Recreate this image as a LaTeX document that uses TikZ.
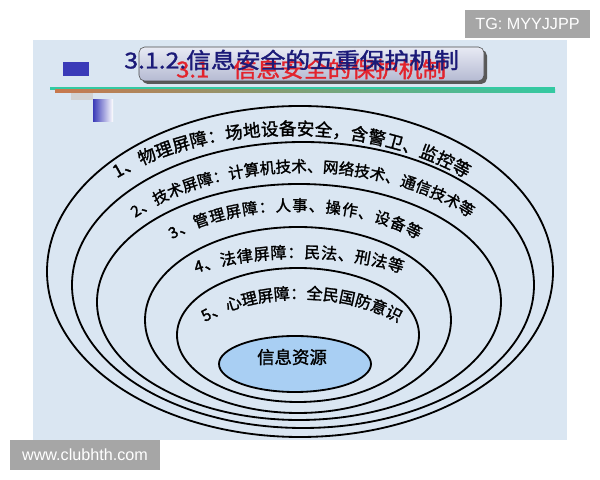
\documentclass[tikz,border=0pt]{standalone}
\usepackage{fontspec}
\setmainfont{Noto Sans CJK SC}[AutoFakeBold=1.5]
\newfontfamily\wmfont{Liberation Sans}
\usetikzlibrary{decorations.text,positioning}
\definecolor{slidebg}{HTML}{DAE6F2}
\definecolor{corefill}{HTML}{A9CFF3}
\definecolor{titleblue}{HTML}{1B1A78}
\definecolor{titlered}{HTML}{E3232C}
\definecolor{boxtop}{HTML}{E8EAF4}
\definecolor{boxbottom}{HTML}{B5BAD2}
\definecolor{decoblue}{HTML}{3A3AB8}
\definecolor{lineteal}{HTML}{33C9A2}
\definecolor{linerust}{HTML}{C8784E}
\definecolor{wmgray}{HTML}{A6A6A6}
\newcommand{\ringfontA}{\fontsize{12.4}{12.4}\selectfont\bfseries}
\newcommand{\ringfontB}{\fontsize{11}{11}\selectfont\bfseries}
\newcommand{\ringfontC}{\fontsize{11.4}{11.4}\selectfont\bfseries}
\tikzset{
    ring/.style={
           draw=black,
           line width=1.3pt,
           },
    ringtext/.style={
           decorate,
           decoration={text along path, text align=fit to path},
           },
    titlebox/.style={
           rounded corners=4pt,
           draw=black!70,
           top color=boxtop,
           bottom color=boxbottom,
           },
    wmbox/.style={
           fill=wmgray,
           text=white,
           inner sep=0pt,
           font=\wmfont\fontsize{11.5}{12}\selectfont,
           },
}

\begin{document}
\begin{tikzpicture}[x=0.025cm,y=0.025cm]
      \useasboundingbox (0,0) rectangle (600,480);
      % slide background
      \fill[slidebg] (33,40) rectangle (567,440);

      % TOP LEFT DECORATION
      \fill[decoblue] (63,404) rectangle (89,418);
      \fill[gray!35] (71,380) rectangle (93,387);
      \shade[left color=decoblue, right color=white] (93,358) rectangle (113,380);
      \fill[lineteal] (50,390) rectangle (555,393);
      \shade[left color=linerust, right color=lineteal] (55,387.5) rectangle (555,390);

      % TITLE
      \fill[black!65, rounded corners=4pt] (142,396) rectangle (487,430);
      \path[titlebox] (139,399) rectangle (484,433);
      \node[anchor=west, text=titlered, xscale=1.08, inner sep=0pt,
          font=\fontsize{15.6}{16}\selectfont\bfseries] (oldtitle) at (176,411)
          {3.1\quad 信息安全的保护机制};
      \node[anchor=west, text=titleblue, xscale=1.13, inner sep=0pt,
          font=\fontsize{15.6}{16}\selectfont\bfseries] (title) at (124,420)
          {3.1.2.信息安全的五重保护机制};

      % RINGS, outside to inside
      \draw[ring] (300,208.5) ellipse [x radius=253, y radius=165.5];
      \draw[ring] (303,195) ellipse [x radius=231, y radius=143];
      \draw[ring] (299,178) ellipse [x radius=202, y radius=118];
      \draw[ring] (298,160) ellipse [x radius=153, y radius=93];
      \draw[ring] (298,145) ellipse [x radius=121, y radius=67];
      \draw[ring, fill=corefill] (295,116) ellipse [x radius=76, y radius=28];
      \node[font=\fontsize{12.4}{12.4}\selectfont\bfseries] (core) at (292,123) {信息资源};

      % RING LABELS
      \path[ringtext, decoration={text={|\ringfontA|1、物理屏障：场地设备安全，含警卫、监控等}}]
          ([shift={(133.2:255 and 160)}]291.5,185)
          arc [start angle=133.2, end angle=46.8, x radius=255, y radius=160];
      \path[ringtext, decoration={text={|\ringfontB|2、技术屏障：计算机技术、网络技术、通信技术等}}]
          ([shift={(136.7:230 and 146)}]302.5,162)
          arc [start angle=136.7, end angle=43.3, x radius=230, y radius=146];
      \path[ringtext, decoration={text={|\ringfontB|3、管理屏障：人事、操作、设备等}}]
          ([shift={(133.1:180 and 105)}]295,164)
          arc [start angle=133.1, end angle=46.9, x radius=180, y radius=105];
      \path[ringtext, decoration={text={|\ringfontC|4、法律屏障：民法、刑法等}}]
          ([shift={(122.8:190 and 95)}]299,127)
          arc [start angle=122.8, end angle=57.2, x radius=190, y radius=95];
      \path[ringtext, decoration={text={|\ringfontC|5、心理屏障：全民国防意识}}]
          ([shift={(133.3:140 and 85)}]301,96)
          arc [start angle=133.3, end angle=46.7, x radius=140, y radius=85];

      % WATERMARKS
      \node[wmbox, minimum width=3.125cm, minimum height=0.7cm] (tg) at (527.5,456) {TG: MYYJJPP};
      \node[wmbox, minimum width=3.75cm, minimum height=0.75cm] (site) at (85,25) {www.clubhth.com};
\end{tikzpicture}
\end{document}
